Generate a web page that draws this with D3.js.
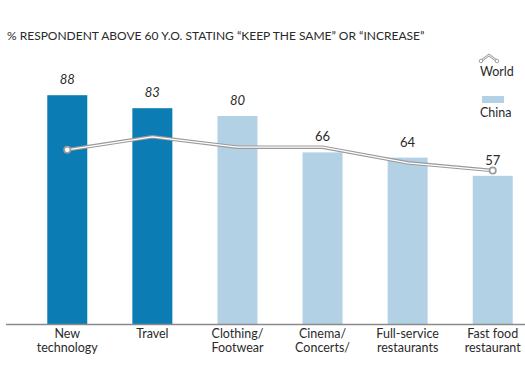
<!doctype html>
<html>
<head>
<meta charset="UTF-8">
<script src="https://d3js.org/d3.v7.min.js"></script>
<style>
  body { margin: 0; background: #fff; }
  text { font-family: Lato, "Open Sans", sans-serif; fill: #2a2a2a; }
</style>
</head>
<body>
<div id="graph"></div>
<script>
// data
var categories = [["New", "technology"], ["Travel"], ["Clothing/", "Footwear"], ["Cinema/", "Concerts/"], ["Full-service", "restaurants"], ["Fast food", "restaurant"]];
var chinaValues = [88, 83, 80, 66, 64, 57];
var worldValues = [67, 72, 68, 68, 62, 59];
var highlight = [true, true, false, false, false, false];

var w = 525, h = 375;
var svg = d3.select("#graph").append("svg")
    .attr("width", w)
    .attr("height", h);

var x = d3.scaleBand()
    .domain(d3.range(categories.length))
    .range([26, 534])
    .paddingInner(0.53)
    .paddingOuter(0.25);

var y = d3.scaleLinear()
    .domain([0, 100])
    .range([324, 64]);

var dark = "#0b7db4", light = "#b3d1e5";

svg.append("text")
    .attr("x", 7).attr("y", 40)
    .style("font-size", "12px")
    .text("% RESPONDENT ABOVE 60 Y.O. STATING \u201CKEEP THE SAME\u201D OR \u201CINCREASE\u201D");

// bars
svg.selectAll(".bar")
    .data(chinaValues)
    .enter().append("rect")
    .attr("class", "bar")
    .attr("x", function(d, i) { return x(i); })
    .attr("y", function(d) { return y(d); })
    .attr("width", x.bandwidth())
    .attr("height", function(d) { return y(0) - y(d); })
    .attr("fill", function(d, i) { return highlight[i] ? dark : light; });

// value labels
svg.selectAll(".val")
    .data(chinaValues)
    .enter().append("text")
    .attr("class", "val")
    .attr("x", function(d, i) { return x(i) + x.bandwidth() / 2; })
    .attr("y", function(d) { return y(d) - 11; })
    .attr("text-anchor", "middle")
    .style("font-size", "13px")
    .style("font-style", function(d, i) { return i < 3 ? "italic" : "normal"; })
    .text(function(d) { return d; });

// axis line
svg.append("line")
    .attr("x1", 6).attr("x2", w)
    .attr("y1", y(0) + 0.5).attr("y2", y(0) + 0.5)
    .style("stroke", "#8a8a8a")
    .style("stroke-width", 1.5);

// category labels
var labels = svg.selectAll(".cat")
    .data(categories)
    .enter().append("text")
    .attr("class", "cat")
    .attr("text-anchor", "middle")
    .style("font-size", "12.5px")
    .attr("transform", function(d, i) { return "translate(" + (x(i) + x.bandwidth() / 2) + ",338)"; });
labels.selectAll("tspan")
    .data(function(d) { return d; })
    .enter().append("tspan")
    .attr("x", 0)
    .attr("dy", function(d, i) { return i === 0 ? 0 : 14; })
    .text(function(d) { return d; });

// world line
var line = d3.line()
    .x(function(d, i) { return x(i) + x.bandwidth() / 2; })
    .y(function(d) { return y(d); });

svg.append("path")
    .datum(worldValues)
    .attr("d", line)
    .style("fill", "none")
    .style("stroke", "#9a9a9a")
    .style("stroke-width", 3.5);
svg.append("path")
    .datum(worldValues)
    .attr("d", line)
    .style("fill", "none")
    .style("stroke", "#fff")
    .style("stroke-width", 1.2);

var ends = [0, worldValues.length - 1];
svg.selectAll(".end")
    .data(ends)
    .enter().append("circle")
    .attr("cx", function(i) { return x(i) + x.bandwidth() / 2; })
    .attr("cy", function(i) { return y(worldValues[i]); })
    .attr("r", 3.2)
    .style("fill", "#fff")
    .style("stroke", "#9a9a9a")
    .style("stroke-width", 1.6);

// legend
var legIcon = d3.line()([[481, 61], [489, 55], [497, 61]]);
svg.append("path").attr("d", legIcon)
    .style("fill", "none").style("stroke", "#a0a0a0").style("stroke-width", 2.5);
svg.append("path").attr("d", legIcon)
    .style("fill", "none").style("stroke", "#fff").style("stroke-width", 0.8);
svg.append("circle").attr("cx", 481).attr("cy", 61).attr("r", 1.8)
    .style("fill", "#fff").style("stroke", "#a0a0a0");
svg.append("circle").attr("cx", 497).attr("cy", 61).attr("r", 1.8)
    .style("fill", "#fff").style("stroke", "#a0a0a0");
svg.append("text").attr("x", 480).attr("y", 76)
    .style("font-size", "12.5px").text("World");

svg.append("rect").attr("x", 482).attr("y", 96).attr("width", 22).attr("height", 7)
    .attr("fill", light);
svg.append("text").attr("x", 480).attr("y", 117)
    .style("font-size", "12.5px").text("China");
</script>
</body>
</html>
